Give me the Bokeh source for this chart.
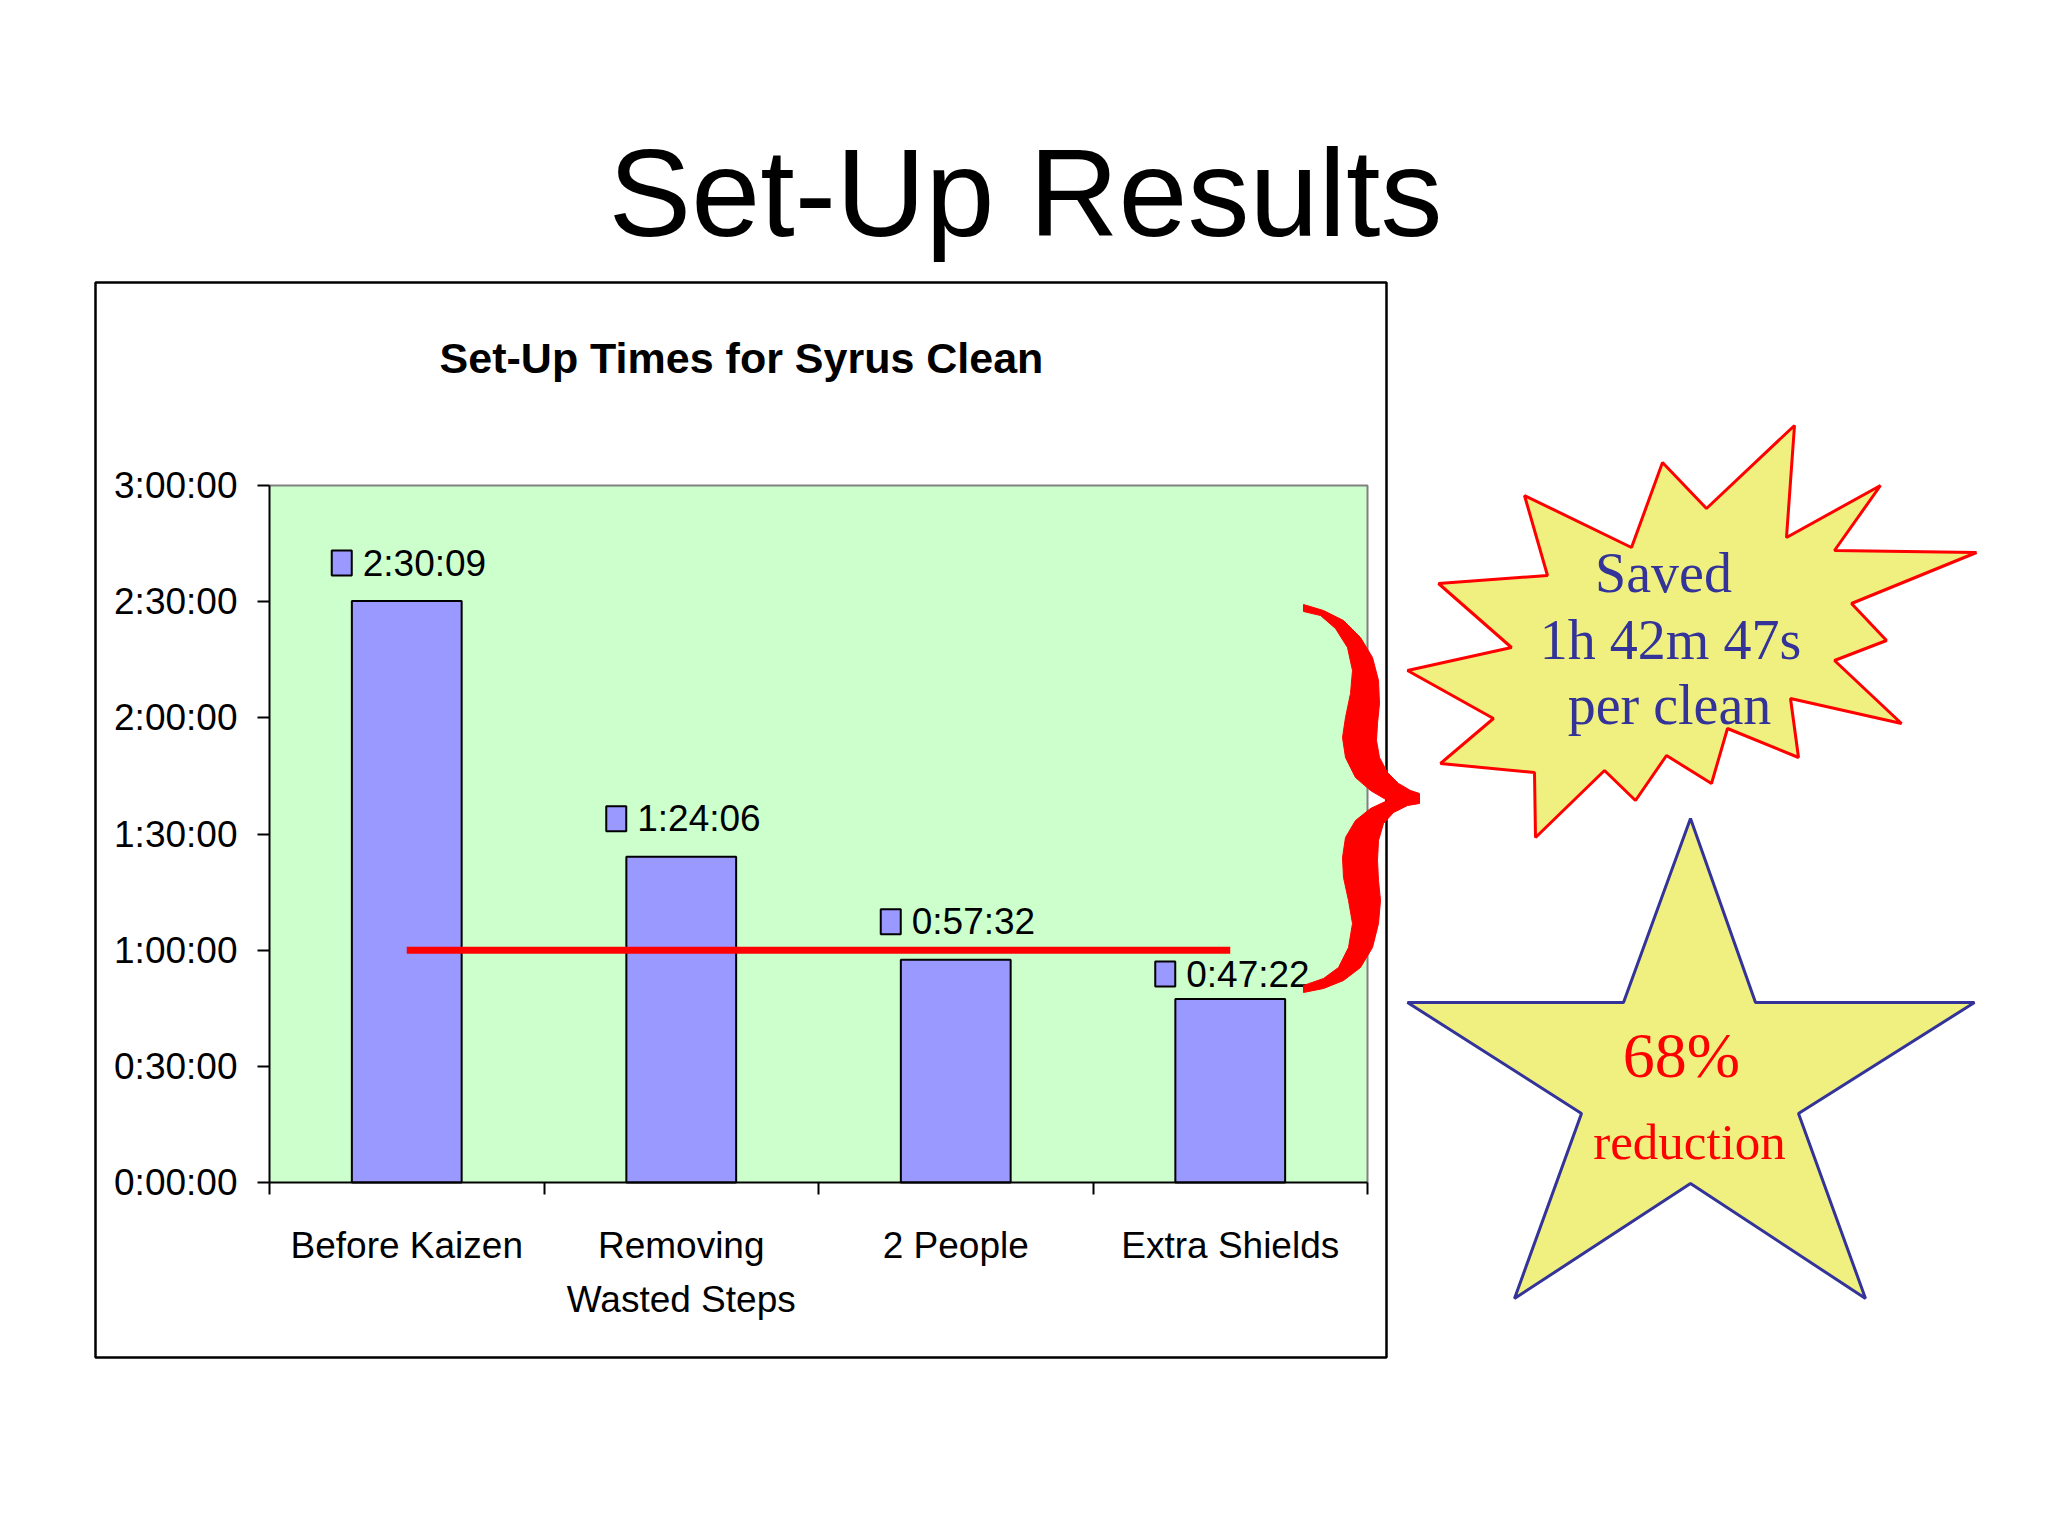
from bokeh.plotting import figure
from bokeh.models import Range1d, LinearAxis, FixedTicker
from bokeh.core.properties import value
from bokeh.embed import file_html
from bokeh.resources import INLINE

# --- chart data (set-up times in seconds) ---
categories = ["Before Kaizen", "Removing\nWasted Steps", "2 People", "Extra Shields"]
setup_secs = [9009, 5046, 3452, 2842]      # 2:30:09, 1:24:06, 0:57:32, 0:47:22
target_secs = 3600                         # 1:00:00 red line
y_ticks = [0, 1800, 3600, 5400, 7200, 9000, 10800]


def hms(s):
    return "%d:%02d:%02d" % (s // 3600, s % 3600 // 60, s % 60)


saved = setup_secs[0] - setup_secs[-1]
saved_txt = "%dh %dm %ds" % (saved // 3600, saved % 3600 // 60, saved % 60)
pct_txt = "%d%%" % round(100.0 * saved / setup_secs[0])

# --- page layout (screen pixels) ---
W, H = 2032, 1520
PX_L, PX_R, PY_T, PY_B = 269, 1367, 485, 1182   # plot area of the bar chart
Y_MAX = y_ticks[-1]
N = len(categories)
sx = N / (PX_R - PX_L)          # category units per pixel
sy = Y_MAX / (PY_B - PY_T)      # seconds per pixel

SANS = "Liberation Sans"
SERIF = "Liberation Serif"
YELLOW = "#F0F080"
NAVY = "#333399"
LBL = 37            # chart text size


def bl(y, size):
    # text y for a wanted baseline position
    return y - 0.35 * size


p = figure(width=W, height=H, x_range=Range1d(0, W), y_range=Range1d(H, 0),
           x_axis_type=None, y_axis_type=None, min_border=0,
           toolbar_location=None, output_backend="svg",
           background_fill_color="white", border_fill_color="white",
           outline_line_color=None)
p.extra_x_ranges = {"cat": Range1d(-PX_L * sx, N + (W - PX_R) * sx)}
p.extra_y_ranges = {"time": Range1d(-(H - PY_B) * sy, Y_MAX + PY_T * sy)}

# chart frame box
p.quad(left=[95], right=[1386], top=[282], bottom=[1357],
       fill_color="white", line_color="black", line_width=2.5)

# titles
p.text(x=[1025], y=[bl(236, 124)], text=["Set-Up Results"], text_font=value(SANS),
       text_font_size="124px", text_align="center", text_baseline="alphabetic",
       text_color="black")
p.text(x=[741], y=[bl(373, 43)], text=["Set-Up Times for Syrus Clean"],
       text_font=value(SANS), text_font_style="bold", text_font_size="43px",
       text_align="center", text_baseline="alphabetic", text_color="black")

# plot area
p.quad(left=[0], right=[N], bottom=[0], top=[Y_MAX], x_range_name="cat",
       y_range_name="time", fill_color="#CCFFCC", line_color=None)
p.line(x=[0, N, N], y=[Y_MAX, Y_MAX, 0], x_range_name="cat", y_range_name="time",
       line_color="#808080", line_width=2)

xc = [i + 0.5 for i in range(N)]
p.vbar(x=xc, top=setup_secs, bottom=0, width=0.4, x_range_name="cat",
       y_range_name="time", fill_color="#9999FF", line_color="black", line_width=2)

# data labels with legend key
label_lift = [25, 25, 25, 12]
p.rect(x=[c - 65 * sx for c in xc],
       y=[s + (l + 13) * sy for s, l in zip(setup_secs, label_lift)],
       width=20, height=25, width_units="screen", height_units="screen",
       x_range_name="cat", y_range_name="time",
       fill_color="#9999FF", line_color="black", line_width=2)
p.text(x=xc, y=setup_secs, text=[hms(s) for s in setup_secs],
       x_offset=-44, y_offset=[-l - 0.35 * LBL for l in label_lift],
       x_range_name="cat", y_range_name="time", text_font=value(SANS),
       text_font_size="%dpx" % LBL, text_baseline="alphabetic", text_color="black")

# target line
p.line(x=[xc[0], xc[-1]], y=[target_secs, target_secs], x_range_name="cat",
       y_range_name="time", line_color="#FF0000", line_width=7)

# axes
def style(ax):
    ax.axis_line_color = "black"
    ax.axis_line_width = 2
    ax.major_tick_line_color = "black"
    ax.major_tick_line_width = 2
    ax.major_tick_in = 0
    ax.major_tick_out = 12
    ax.minor_tick_line_color = None
    ax.major_label_text_font = SANS
    ax.major_label_text_font_size = "%dpx" % LBL
    ax.major_label_text_color = "black"


yax = LinearAxis(y_range_name="time", fixed_location=PX_L, bounds=(0, Y_MAX),
                 ticker=FixedTicker(ticks=y_ticks),
                 major_label_overrides={t: hms(t) for t in y_ticks})
style(yax)
yax.major_label_standoff = 20
p.add_layout(yax, "left")

xax = LinearAxis(x_range_name="cat", fixed_location=PY_B, bounds=(0, N),
                 ticker=FixedTicker(ticks=list(range(N + 1))),
                 major_label_overrides={i: "" for i in range(N + 1)})
style(xax)
p.add_layout(xax, "below")

xlab = LinearAxis(x_range_name="cat", fixed_location=PY_B,
                  ticker=FixedTicker(ticks=xc),
                  major_label_overrides={c: name for c, name in zip(xc, categories)})
style(xlab)
xlab.axis_line_color = None
xlab.major_tick_line_color = None
xlab.major_tick_out = 0
xlab.major_label_standoff = 42
xlab.major_label_text_line_height = 1.32
p.add_layout(xlab, "below")

# red brace
brace_x = [1303, 1323, 1343, 1360, 1372, 1378, 1379, 1377, 1376, 1379, 1387, 1398, 1410,
           1419, 1419, 1407, 1393, 1383, 1378, 1377, 1378, 1380, 1378, 1372, 1360, 1343,
           1323, 1303, 1303, 1323, 1338, 1348, 1352, 1348, 1343, 1342, 1345, 1355, 1370,
           1387, 1370, 1355, 1345, 1342, 1345, 1350, 1352, 1347, 1335, 1320, 1303]
brace_y = [604, 610, 620, 637, 657, 680, 703, 723, 740, 757, 772, 783, 790,
           793, 803, 805, 812, 823, 840, 860, 880, 900, 923, 947, 967, 980,
           988, 992, 985, 978, 967, 947, 923, 900, 877, 857, 837, 820, 808,
           800, 790, 777, 757, 737, 717, 693, 670, 647, 628, 615, 611]
p.patch(brace_x, brace_y, fill_color="#FF0000", line_color="#FF0000", line_width=1)

# explosion shape
burst_x = [1794, 1786, 1880, 1834, 1976, 1851, 1886, 1834, 1901, 1790, 1798, 1727, 1711, 1666,
           1635, 1604, 1535, 1534, 1440, 1493, 1407, 1511, 1438, 1547, 1524, 1631, 1662, 1706]
burst_y = [425, 537, 485, 550, 552, 603, 640, 660, 723, 698, 757, 728, 783, 755,
           800, 770, 837, 772, 763, 718, 670, 647, 583, 575, 495, 547, 462, 508]
p.patch(burst_x, burst_y, fill_color=YELLOW, line_color="#FF0000", line_width=3)
p.text(x=[1663, 1670, 1669], y=[bl(592, 56), bl(659, 56), bl(724, 56)],
       text=["Saved", saved_txt, "per clean"],
       text_font=value(SERIF), text_font_size="56px", text_align="center",
       text_baseline="alphabetic", text_color=NAVY)

# five-point star
star_x = [1690, 1755, 1974, 1798, 1865, 1690, 1514, 1581, 1407, 1623]
star_y = [818, 1002, 1002, 1113, 1298, 1183, 1298, 1113, 1002, 1002]
p.patch(star_x, star_y, fill_color=YELLOW, line_color=NAVY, line_width=3)
p.text(x=[1681], y=[bl(1077, 64)], text=[pct_txt], text_font=value(SERIF),
       text_font_size="64px", text_align="center", text_baseline="alphabetic",
       text_color="#FF0000")
p.text(x=[1689], y=[bl(1159, 51)], text=["reduction"], text_font=value(SERIF),
       text_font_size="51px", text_align="center", text_baseline="alphabetic",
       text_color="#FF0000")

open("out.html", "w").write(file_html(p, INLINE))
